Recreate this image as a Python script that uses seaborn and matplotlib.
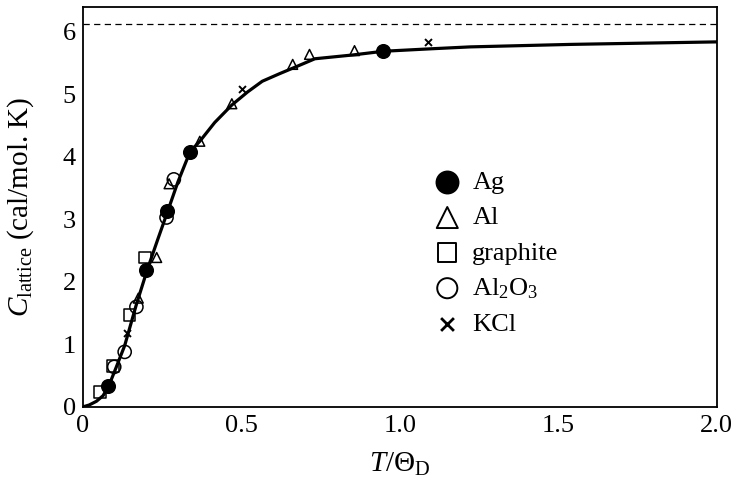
import matplotlib
matplotlib.use("Agg")
import matplotlib.pyplot as plt
import seaborn as sns
import pandas as pd
from matplotlib.ticker import MultipleLocator

# Debye-model lattice heat capacity curve
curve_x = [0.0, 0.02, 0.043, 0.064, 0.083, 0.105, 0.132, 0.169, 0.203, 0.235,
           0.267, 0.30, 0.338, 0.369, 0.416, 0.470, 0.52, 0.566, 0.62, 0.667,
           0.732, 0.85, 0.948, 1.1, 1.222, 1.541, 2.0]
curve_y = [0.0, 0.03, 0.09, 0.18, 0.35, 0.63, 0.98, 1.64, 2.19, 2.66,
           3.12, 3.6, 4.08, 4.25, 4.55, 4.83, 5.04, 5.21, 5.33, 5.43,
           5.57, 5.63, 5.69, 5.73, 5.76, 5.80, 5.84]

# Classical Dulong-Petit limit
dulong_petit = 6.13

# Measured values for each solid
ag_x = [0.08, 0.20, 0.267, 0.338, 0.948]
ag_y = [0.33, 2.19, 3.14, 4.08, 5.69]

al_x = [0.175, 0.233, 0.272, 0.369, 0.470, 0.662, 0.715, 0.857]
al_y = [1.74, 2.39, 3.57, 4.25, 4.85, 5.48, 5.64, 5.70]

graphite_x = [0.055, 0.096, 0.147, 0.197]
graphite_y = [0.24, 0.65, 1.47, 2.39]

al2o3_x = [0.099, 0.132, 0.169, 0.264, 0.287]
al2o3_y = [0.64, 0.88, 1.60, 3.03, 3.64]

kcl_x = [0.138, 0.192, 0.502, 1.088]
kcl_y = [1.19, 2.16, 5.09, 5.84]

sns.set_style("white")
plt.rcParams["font.family"] = ["Liberation Serif", "DejaVu Serif"]
plt.rcParams["mathtext.fontset"] = "custom"
plt.rcParams["mathtext.rm"] = "Liberation Serif"
plt.rcParams["mathtext.it"] = "Liberation Serif:italic"
for key in ["text.color", "axes.labelcolor", "xtick.color", "ytick.color",
            "axes.edgecolor"]:
    plt.rcParams[key] = "black"

fig = plt.figure(figsize=(7.33, 4.92), dpi=100)
ax = fig.add_axes([0.113, 0.173, 0.865, 0.813])

ax.axhline(dulong_petit, color="black", lw=0.9, ls=(0, (5, 3.5)), zorder=1)

sns.lineplot(data=pd.DataFrame({"x": curve_x, "y": curve_y}), x="x", y="y",
             sort=False, color="black", lw=2.3, ax=ax, zorder=2)

# label, x, y, marker, face, size on plot, size in legend
series = [
    ("Ag", ag_x, ag_y, "o", "black", 95, 250),
    ("Al", al_x, al_y, "^", "none", 50, 230),
    ("graphite", graphite_x, graphite_y, "s", "none", 72, 175),
    (r"Al$_2$O$_3$", al2o3_x, al2o3_y, "o", "none", 90, 210),
    ("KCl", kcl_x, kcl_y, "x", "black", 25, 85),
]
for label, xs, ys, m, fc, s, _ in series:
    if m == "x":
        sns.scatterplot(x=xs, y=ys, marker=m, color="black", s=s, linewidth=1.4,
                        label=label, ax=ax, zorder=3)
    else:
        sns.scatterplot(x=xs, y=ys, marker=m, facecolor=fc, edgecolor="black",
                        s=s, linewidth=1.1, label=label, ax=ax, zorder=3)

leg = ax.legend(loc="upper left", bbox_to_anchor=(0.554, 0.59), frameon=False,
                fontsize=19, handlelength=1.0, handletextpad=0.45,
                labelspacing=0.44, scatterpoints=1, borderaxespad=0,
                borderpad=0)
for h, spec in zip(leg.legend_handles, series):
    h.set_sizes([spec[6]])
    h.set_linewidth(2.0 if spec[3] == "x" else 1.4)

ax.set_xlim(0, 2.0)
ax.set_ylim(0, 6.4)
ax.xaxis.set_major_locator(MultipleLocator(0.5))
ax.xaxis.set_minor_locator(MultipleLocator(0.1))
ax.yaxis.set_major_locator(MultipleLocator(1))
ax.set_xticks([0, 0.5, 1.0, 1.5, 2.0])
ax.set_xticklabels(["0", "0.5", "1.0", "1.5", "2.0"])
ax.tick_params(axis="both", which="both", direction="in", labelsize=19,
               width=1.0, color="black")
ax.tick_params(axis="both", which="major", length=7)
ax.tick_params(axis="x", which="minor", length=7)
ax.tick_params(axis="x", pad=6)
ax.tick_params(axis="y", pad=5)

for sp in ax.spines.values():
    sp.set_color("black")
    sp.set_linewidth(1.3)

ax.set_xlabel(r"$T/\Theta_{\mathrm{D}}$", fontsize=21, labelpad=10)
ax.set_ylabel(r"$C_{\mathrm{lattice}}$ (cal/mol. K)", fontsize=21, labelpad=19)

fig.savefig("out.png", dpi=100)
